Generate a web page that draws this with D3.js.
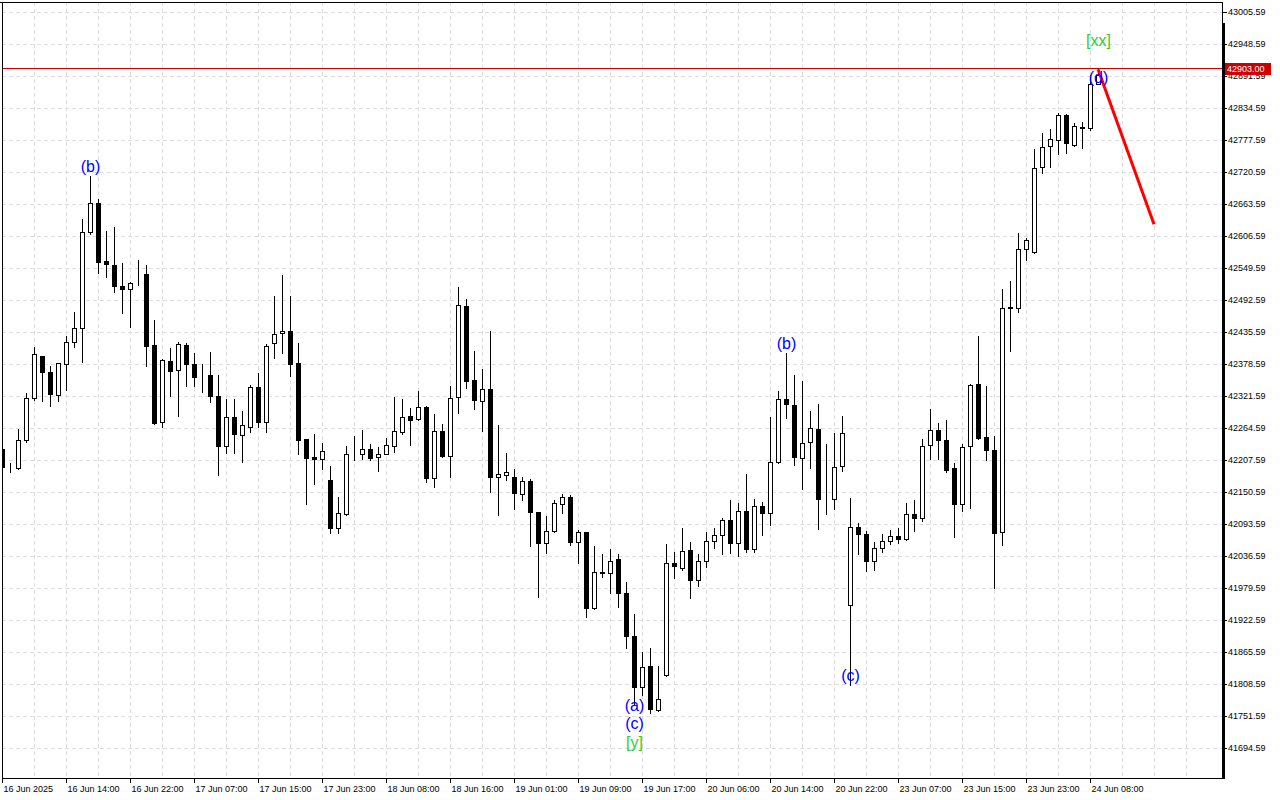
<!DOCTYPE html>
<html>
<head>
<meta charset="utf-8">
<script src="https://cdn.jsdelivr.net/npm/d3@7"></script>
<style>
body { margin: 0; background: #fff; }
text { font-family: "Liberation Sans", Arial, sans-serif; }
</style>
</head>
<body>
<div id="chart"></div>
<script>
// hourly bars, 16 Jun 06:00 .. 24 Jun 09:00
var openP = [42226,42194,42192,42242,42317,42392,42364,42323,42378,42417,
    42442,42613,42665,42561,42554,42517,42511,42522,42538,42412,
    42274,42383,42367,42412,42378,42356,42358,42321,42232,42283,
    42251,42266,42337,42274,42415,42433,42437,42380,42244,42212,
    42208,42171,42086,42110,42217,42218,42226,42212,42217,42232,
    42257,42285,42280,42301,42175,42258,42215,42319,42481,42349,
    42312,42333,42176,42180,42176,42146,42169,42114,42059,42080,
    42128,42142,42061,42078,41943,42008,42005,42030,41970,41894,
    41802,41840,41761,41824,42023,42014,42046,41993,42027,42062,
    42073,42100,42059,42116,42048,42125,42112,42203,42315,42305,
    42210,42239,42262,42139,42137,42197,41948,42087,42075,42028,
    42050,42062,42071,42066,42110,42103,42233,42260,42242,42192,
    42128,42232,42342,42248,42224,42078,42478,42478,42583,42577,
    42729,42766,42777,42822,42768,42800,42798,42877];
var highP = [42230,42201,42262,42326,42408,42393,42374,42380,42428,42470,
    42636,42713,42672,42615,42622,42558,42524,42563,42554,42456,
    42387,42406,42417,42415,42397,42378,42400,42358,42315,42315,
    42294,42340,42362,42413,42499,42536,42499,42415,42245,42253,
    42237,42196,42141,42232,42249,42260,42235,42230,42246,42319,
    42315,42299,42330,42303,42289,42272,42338,42515,42494,42402,
    42369,42437,42269,42219,42191,42176,42174,42115,42107,42135,
    42146,42144,42082,42079,42053,42039,42048,42039,41989,41932,
    41865,41873,41841,42057,42043,42086,42061,42039,42078,42086,
    42103,42135,42130,42183,42137,42132,42283,42330,42398,42358,
    42347,42294,42306,42235,42255,42285,42139,42094,42080,42061,
    42075,42082,42086,42130,42135,42244,42298,42273,42278,42201,
    42235,42342,42428,42338,42249,42511,42526,42611,42602,42761,
    42789,42797,42825,42823,42807,42809,42893,42903];
var lowP = [42192,42185,42191,42239,42314,42312,42303,42312,42331,42408,
    42381,42609,42540,42533,42506,42469,42444,42518,42374,42272,
    42265,42321,42285,42338,42338,42328,42310,42180,42219,42219,
    42203,42257,42266,42257,42388,42397,42356,42217,42128,42164,
    42191,42077,42077,42109,42207,42208,42207,42187,42217,42222,
    42253,42233,42278,42167,42159,42212,42176,42290,42335,42298,
    42258,42150,42109,42171,42119,42135,42053,41963,42041,42079,
    42112,42055,42023,41927,41942,41998,41971,41945,41873,41770,
    41788,41756,41760,41823,41996,42012,41961,41982,42016,42050,
    42039,42041,42036,42043,42044,42073,42091,42201,42281,42198,
    42155,42192,42085,42110,42119,42187,41806,42039,42009,42011,
    42043,42057,42059,42064,42080,42098,42208,42208,42185,42070,
    42116,42121,42245,42207,41979,42055,42402,42470,42563,42576,
    42718,42729,42752,42754,42766,42763,42795,42876];
var closeP = [42194,42195,42242,42317,42396,42364,42324,42379,42417,42442,
    42613,42665,42560,42556,42517,42511,42523,42522,42410,42273,
    42385,42365,42413,42378,42355,42356,42321,42232,42283,42253,
    42269,42337,42274,42410,42431,42437,42378,42242,42210,42208,
    42223,42086,42112,42217,42218,42226,42210,42217,42233,42258,
    42283,42278,42301,42175,42258,42215,42317,42483,42348,42314,
    42333,42176,42182,42185,42148,42169,42114,42059,42080,42130,
    42142,42061,42078,41943,42007,42005,42028,41970,41893,41802,
    41838,41763,41781,42023,42018,42045,41993,42027,42062,42073,
    42100,42059,42116,42048,42125,42112,42203,42315,42306,42212,
    42237,42264,42137,42139,42194,42255,42087,42075,42028,42050,
    42062,42071,42066,42110,42103,42232,42260,42242,42189,42128,
    42230,42340,42246,42224,42077,42478,42480,42583,42599,42727,
    42764,42779,42822,42772,42802,42798,42877,42893];

var timeLabels = ["16 Jun 2025","16 Jun 14:00","16 Jun 22:00","17 Jun 07:00","17 Jun 15:00",
    "17 Jun 23:00","18 Jun 08:00","18 Jun 16:00","19 Jun 01:00","19 Jun 09:00","19 Jun 17:00",
    "20 Jun 06:00","20 Jun 14:00","20 Jun 22:00","23 Jun 07:00","23 Jun 15:00","23 Jun 23:00",
    "24 Jun 08:00"];
var priceTicks = [43005.59,42948.59,42891.59,42834.59,42777.59,42720.59,42663.59,42606.59,
    42549.59,42492.59,42435.59,42378.59,42321.59,42264.59,42207.59,42150.59,42093.59,
    42036.59,41979.59,41922.59,41865.59,41808.59,41751.59,41694.59];
var currentPrice = 42903.00;
var forecastIdx = [137, 144];
var forecastPrice = [42903, 42627];

// wave marks: bar index, text, colour
var waveHigh = [[11, "(b)", "blue"], [98, "(b)", "blue"], [137, "[xx]", "green"]];
var waveLow = [[79, "(a)", "blue"], [79, "(c)", "blue"], [79, "[y]", "green"], [106, "(c)", "blue"]];
var waveOnBar = [[137, "(d)", "blue"]];

var W = 1280, H = 800;
var pLeft = 2, pRight = 1222, pTop = 2, pBottom = 778;
var colors = { blue: "#0000ff", green: "#32cd32" };

var x = d3.scaleLinear().domain([0, 152.5]).range([pLeft, pRight]);
var y = d3.scaleLinear().domain([41694.59, 43005.59]).range([747.7, 11.7]);

var svg = d3.select("#chart").append("svg")
    .attr("width", W)
    .attr("height", H)
    .style("display", "block");

svg.append("rect").attr("width", W).attr("height", H).attr("fill", "#fff");

svg.append("clipPath").attr("id", "plotclip")
    .append("rect")
    .attr("x", pLeft).attr("y", pTop)
    .attr("width", pRight - pLeft).attr("height", pBottom - pTop);

var grid = svg.append("g")
    .attr("stroke", "#dedede")
    .attr("stroke-dasharray", "4,3")
    .attr("shape-rendering", "crispEdges");

// vertical grid every 4 bars
grid.selectAll(".vg")
    .data(d3.range(4, 152, 4))
    .enter().append("line")
    .attr("x1", function (d) { return Math.round(x(d)) + 0.5; })
    .attr("x2", function (d) { return Math.round(x(d)) + 0.5; })
    .attr("y1", pTop).attr("y2", pBottom);

grid.selectAll(".hg")
    .data(priceTicks)
    .enter().append("line")
    .attr("x1", pLeft).attr("x2", pRight)
    .attr("y1", function (d) { return Math.round(y(d)) + 0.5; })
    .attr("y2", function (d) { return Math.round(y(d)) + 0.5; });

// candles
var bars = svg.append("g").attr("clip-path", "url(#plotclip)")
    .attr("shape-rendering", "crispEdges");

var idx = d3.range(openP.length);

bars.selectAll(".wick")
    .data(idx)
    .enter().append("line")
    .attr("x1", function (i) { return Math.round(x(i)) + 0.5; })
    .attr("x2", function (i) { return Math.round(x(i)) + 0.5; })
    .attr("y1", function (i) { return Math.round(y(highP[i])); })
    .attr("y2", function (i) { return Math.round(y(lowP[i])) + 1; })
    .attr("stroke", "#000")
    .attr("stroke-width", 1);

bars.selectAll(".body")
    .data(idx)
    .enter().append("rect")
    .attr("x", function (i) { return Math.round(x(i)) - 1.5; })
    .attr("y", function (i) { return Math.round(y(Math.max(openP[i], closeP[i]))) + 0.5; })
    .attr("width", 4)
    .attr("height", function (i) {
        return Math.max(0, Math.round(y(Math.min(openP[i], closeP[i]))) - Math.round(y(Math.max(openP[i], closeP[i]))));
    })
    .attr("fill", function (i) { return closeP[i] >= openP[i] ? "#fff" : "#000"; })
    .attr("stroke", "#000")
    .attr("stroke-width", 1);

// current price line
svg.append("line")
    .attr("x1", pLeft).attr("x2", pRight)
    .attr("y1", Math.round(y(currentPrice)) - 0.5)
    .attr("y2", Math.round(y(currentPrice)) - 0.5)
    .attr("stroke", "#cc0000")
    .attr("stroke-width", 1)
    .attr("shape-rendering", "crispEdges");

// forecast arrow
svg.append("line")
    .attr("x1", x(forecastIdx[0])).attr("y1", y(forecastPrice[0]))
    .attr("x2", x(forecastIdx[1])).attr("y2", y(forecastPrice[1]))
    .attr("stroke", "#ff0000")
    .attr("stroke-width", 3);

// wave labels
var waves = svg.append("g")
    .style("font-family", "'DejaVu Sans', sans-serif")
    .style("font-size", "16px")
    .attr("text-anchor", "middle")
    .attr("dominant-baseline", "central");

waveHigh.forEach(function (w) {
    var off = w[1] === "[xx]" ? -29 : -9;
    waves.append("text")
        .attr("x", x(w[0]) + 0.5)
        .attr("y", y(highP[w[0]]) + off)
        .attr("fill", colors[w[2]])
        .text(w[1]);
});
var lowCount = {};
waveLow.forEach(function (w) {
    var n = lowCount[w[0]] || 0;
    lowCount[w[0]] = n + 1;
    var base = w[0] === 106 ? -10 : 0;
    waves.append("text")
        .attr("x", x(w[0]) + 0.5)
        .attr("y", y(lowP[w[0]]) + base + n * 18.5)
        .attr("fill", colors[w[2]])
        .text(w[1]);
});
waveOnBar.forEach(function (w) {
    waves.append("text")
        .attr("x", x(w[0]) + 0.5)
        .attr("y", y(highP[w[0]]) + 8)
        .attr("fill", colors[w[2]])
        .text(w[1]);
});

// frame
var frame = svg.append("g").attr("shape-rendering", "crispEdges").attr("stroke", "#000");
frame.append("line").attr("x1", 0).attr("x2", pRight).attr("y1", pTop + 0.5).attr("y2", pTop + 0.5);
frame.append("line").attr("x1", pLeft + 0.5).attr("x2", pLeft + 0.5).attr("y1", pTop).attr("y2", pBottom);
frame.append("line").attr("x1", pLeft).attr("x2", pRight).attr("y1", pBottom + 0.5).attr("y2", pBottom + 0.5);
frame.append("line").attr("x1", pRight + 0.5).attr("x2", pRight + 0.5).attr("y1", pTop).attr("y2", pBottom);
frame.append("line").attr("x1", pRight + 1.5).attr("x2", pRight + 1.5).attr("y1", 23).attr("y2", pBottom + 1)
    .attr("stroke-width", 3);

// price axis
var yAxis = d3.axisRight(y)
    .tickValues(priceTicks)
    .tickSize(5)
    .tickPadding(1)
    .tickFormat(d3.format(".2f"));

var ya = svg.append("g")
    .attr("transform", "translate(" + pRight + ",0)")
    .call(yAxis);
ya.select(".domain").remove();
ya.selectAll("line").attr("stroke", "#000").attr("shape-rendering", "crispEdges");
ya.selectAll("text")
    .attr("fill", "#000")
    .style("font-family", "'Liberation Sans', Arial, sans-serif")
    .style("font-size", "9px");

// time axis
var xAxis = d3.axisBottom(x)
    .tickValues(d3.range(0, timeLabels.length * 8, 8))
    .tickSize(5)
    .tickPadding(3)
    .tickFormat(function (d) { return timeLabels[d / 8]; });

var xa = svg.append("g")
    .attr("transform", "translate(0," + pBottom + ")")
    .call(xAxis);
xa.select(".domain").remove();
xa.selectAll("line").attr("stroke", "#000").attr("shape-rendering", "crispEdges");
xa.selectAll("text")
    .attr("text-anchor", "start")
    .attr("x", 1)
    .attr("fill", "#000")
    .style("font-family", "'Liberation Sans', Arial, sans-serif")
    .style("font-size", "9px");

// current price tag
var tagY = Math.round(y(currentPrice));
svg.append("rect")
    .attr("x", pRight + 3).attr("y", tagY - 6)
    .attr("width", 46).attr("height", 12)
    .attr("fill", "#cc0000");
svg.append("text")
    .attr("x", pRight + 5).attr("y", tagY)
    .attr("dy", "0.35em")
    .attr("fill", "#fff")
    .style("font-size", "9px")
    .text(currentPrice.toFixed(2));
</script>
</body>
</html>
